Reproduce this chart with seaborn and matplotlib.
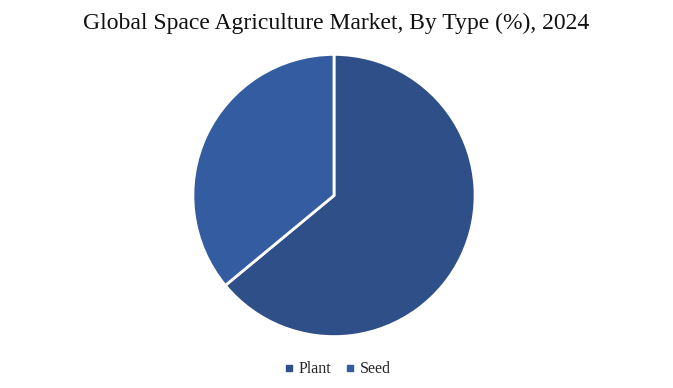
import matplotlib
matplotlib.use("Agg")
import matplotlib.pyplot as plt
import seaborn as sns
from matplotlib.lines import Line2D

types = ["Plant", "Seed"]
shares = [64, 36]
colors = ["#2e4f88", "#345ca0"]

sns.set_theme(style="white")
plt.rcParams["font.family"] = ["Liberation Serif", "DejaVu Serif"]

fig = plt.figure(figsize=(6.73, 3.88), dpi=100)
ax = fig.add_axes([191 / 673, (388 - 338) / 388, 286 / 673, 285 / 388])
ax.pie(shares, colors=colors, startangle=90, counterclock=False,
       wedgeprops=dict(edgecolor="white", linewidth=2))
ax.set_xlim(-1.01, 1.01)
ax.set_ylim(-1.01, 1.01)
ax.set_aspect("equal")

fig.text(0.5, 0.94, "Global Space Agriculture Market, By Type (%), 2024",
         ha="center", va="center", fontsize=17, color="#111111")

handles = [Line2D([], [], marker="s", linestyle="", markersize=4,
                  markerfacecolor=c, markeredgecolor=c) for c in colors]
fig.legend(handles, types, loc="center", bbox_to_anchor=(0.5, 0.048), ncol=2,
           frameon=False, fontsize=11.5, handlelength=0.8, handletextpad=0.2,
           columnspacing=0.8)

fig.savefig("out.png", dpi=100)
